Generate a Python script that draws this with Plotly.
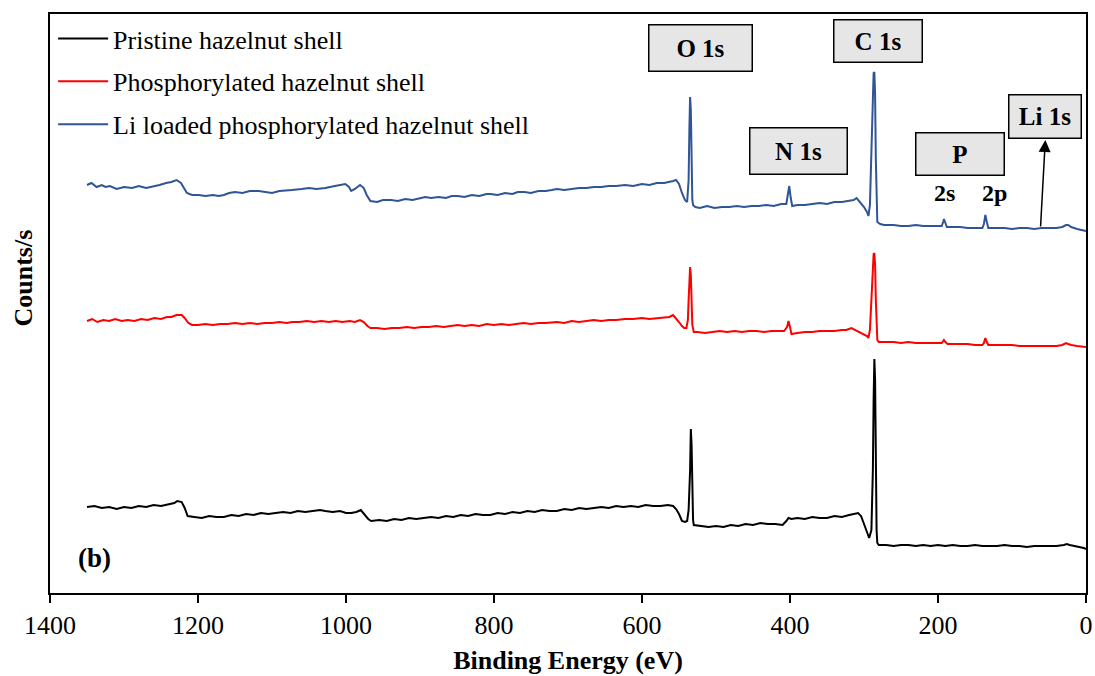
import plotly.graph_objects as go

# (binding energy eV, intensity a.u.)
pristine = [(1350,86),(1340,87),(1330,85),(1320,86),(1310,84),(1300,86),(1290,85),(1280,87),(1270,86),(1260,88),
(1250,87),(1240,89),(1232,90),(1228,92),(1222,91),(1218,85),(1214,77),(1205,76),(1195,75),(1185,77),
(1175,76),(1165,76),(1155,78),(1145,77),(1135,79),(1125,78),(1115,80),(1105,79),(1095,80),(1085,81),
(1075,80),(1065,82),(1055,81),(1045,82),(1035,83),(1028,82),(1018,81),(1008,82),(1000,80),(993,80),
(986,81),(980,83),(975,79),(970,74),(966,72),(955,73),(945,72),(935,74),(925,73),(915,75),
(905,74),(895,75),(885,76),(875,75),(865,77),(855,76),(845,78),(835,77),(825,79),(815,78),
(805,78),(795,80),(785,79),(775,81),(765,80),(755,82),(745,81),(735,83),(725,82),(715,82),
(705,84),(695,83),(685,85),(675,84),(665,85),(655,86),(645,85),(635,87),(625,86),(615,87),
(605,86),(595,88),(585,87),(575,87),(565,88),(558,87),(554,84),(550,79),(546,72),(542,71),
(539,72),(537,83),(535,123),(534,164),(533,148),(532,93),(531,73),(530,68),(520,67),(510,66),
(500,67),(490,66),(480,68),(470,67),(460,69),(450,68),(440,70),(430,69),(420,69),(410,68),
(405,72),(402,75),(398,74),(390,75),(380,74),(370,76),(360,75),(350,75),(340,77),(330,76),
(320,78),(312,79),(308,80),(304,77),(300,69),(296,60),(293,55),(290,63),(288,123),(287,193),
(286,234),(285,213),(284,123),(283,63),(282,50),(280,48),(270,48),(260,47),(250,48),(240,48),
(230,47),(220,48),(210,47),(200,48),(190,47),(180,48),(170,47),(160,47),(150,48),(140,47),
(130,47),(120,47),(110,48),(100,47),(90,47),(80,46),(70,47),(60,47),(50,47),(40,47),
(30,48),(26,49),(22,48),(15,47),(8,46),(3,45),(0,44)]

phosphorylated = [(1350,272),(1343,274),(1336,271),(1328,273),(1320,272),(1312,274),(1303,272),(1295,273),(1286,272),(1277,274),
(1268,273),(1259,275),(1250,274),(1242,276),(1236,276),(1229,278),(1222,278),(1218,275),(1213,270),(1208,268),
(1200,268),(1190,269),(1180,268),(1170,269),(1160,269),(1150,270),(1140,269),(1130,270),(1120,269),(1110,270),
(1100,270),(1090,271),(1080,270),(1073,271),(1063,271),(1053,272),(1043,271),(1033,272),(1023,271),(1014,272),
(1005,271),(995,272),(988,271),(981,273),(976,271),(971,267),(967,265),(958,265),(948,264),(938,265),
(928,265),(918,266),(908,265),(898,266),(888,266),(878,267),(868,266),(858,267),(849,268),(840,267),
(830,268),(820,267),(810,269),(800,268),(790,269),(780,268),(770,269),(760,270),(750,269),(740,270),
(730,270),(720,271),(715,271),(705,270),(695,272),(685,271),(675,272),(665,273),(655,272),(645,273),
(635,273),(623,274),(612,274),(600,275),(590,274),(580,275),(570,276),(563,276),(558,278),(554,275),
(550,271),(546,267),(543,265),(540,265),(538,273),(537,293),(536,318),(535,326),(534,318),(533,288),
(532,268),(530,261),(525,261),(515,260),(505,261),(495,262),(485,261),(475,262),(465,261),(455,262),
(445,262),(435,261),(425,262),(415,262),(408,262),(404,266),(402,272),(400,266),(398,259),(390,260),
(380,261),(370,261),(360,262),(350,262),(340,262),(330,263),(324,263),(317,265),(312,263),(305,261),
(300,259),(296,257),(294,255),(292,263),(290,293),(288,328),(287,339),(286,340),(285,328),(284,293),
(283,263),(282,253),(280,251),(270,251),(260,251),(250,250),(240,251),(230,250),(220,250),(210,250),
(200,250),(195,250),(193,252),(192,253),(190,251),(187,249),(180,249),(170,249),(160,249),(150,248),
(140,248),(138,250),(136,255),(134,251),(132,248),(120,248),(110,248),(100,248),(90,247),(80,247),
(70,247),(60,247),(50,247),(40,247),(32,248),(27,250),(24,249),(20,248),(12,247),(5,246),(0,246)]

li_loaded = [(1350,408),(1344,410),(1337,406),(1330,408),(1325,406),(1319,407),(1310,404),(1300,406),(1289,405),(1280,407),
(1270,405),(1262,406),(1252,408),(1243,410),(1236,411),(1229,413),(1223,410),(1219,405),(1215,400),(1208,398),
(1199,398),(1190,397),(1180,398),(1172,397),(1165,398),(1158,400),(1150,401),(1140,400),(1130,402),(1118,402),
(1108,401),(1100,400),(1090,402),(1080,403),(1073,403),(1060,404),(1050,405),(1040,404),(1028,405),(1015,407),
(1008,408),(1001,409),(996,406),(993,402),(988,404),(981,408),(976,405),(972,398),(967,392),(958,391),
(950,393),(939,393),(930,392),(920,394),(910,393),(900,395),(893,396),(885,395),(875,396),(865,395),
(857,397),(849,397),(840,396),(830,398),(820,397),(810,399),(805,399),(795,398),(785,400),(775,399),
(768,401),(759,401),(750,400),(740,402),(730,402),(722,403),(715,404),(705,403),(695,404),(685,405),
(675,405),(665,406),(655,406),(645,407),(635,407),(623,408),(612,407),(600,409),(590,408),(580,410),
(570,410),(562,411),(558,412),(554,413),(550,409),(546,400),(542,393),(539,391),(537,413),(536,463),
(535,496),(534,483),(533,423),(532,393),(531,388),(528,386),(522,385),(512,387),(502,385),(492,386),
(482,386),(472,387),(462,386),(452,387),(442,387),(432,388),(422,387),(412,389),(405,389),(403,398),
(401,407),(399,395),(397,387),(390,388),(380,388),(370,389),(360,390),(350,389),(340,391),(330,391),
(320,392),(314,393),(310,395),(305,391),(300,386),(296,381),(294,377),(292,388),(290,443),(288,503),
(287,520),(286,521),(285,498),(284,433),(283,383),(282,371),(278,369),(273,368),(260,368),(250,367),
(240,367),(230,368),(220,367),(210,367),(200,367),(195,367),(193,371),(192,374),(190,370),(188,366),
(180,366),(170,366),(160,365),(150,365),(140,365),(138,369),(136,378),(134,371),(132,365),(120,365),
(110,365),(100,364),(90,365),(80,365),(70,364),(60,365),(50,365),(40,365),(32,366),(27,368),
(24,368),(20,366),(12,364),(5,363),(0,362)]

series_names = ["Pristine hazelnut shell", "Phosphorylated hazelnut shell",
                "Li loaded phosphorylated hazelnut shell"]
series_colors = ["#000000", "#FF0000", "#2F5597"]
series_data = [pristine, phosphorylated, li_loaded]

x_ticks = [1400, 1200, 1000, 800, 600, 400, 200, 0]

# peak labels: (text, energy, intensity, box width, box height)
peak_boxes = [("O 1s", 521, 545, 102, 45), ("C 1s", 281.5, 552.5, 87, 41),
              ("N 1s", 388, 442.5, 96, 45), ("P", 170, 439.5, 87, 41),
              ("Li 1s", 55, 477, 71, 42)]
sub_labels = [("2s", 191, 400), ("2p", 124, 400)]

FONT = "Liberation Serif"

fig = go.Figure()
for name, color, data in zip(series_names, series_colors, series_data):
    xs = [p[0] for p in data]
    ys = [p[1] for p in data]
    fig.add_trace(go.Scatter(x=xs, y=ys, mode="lines", name=name, legendgroup=name,
                             line=dict(color=color, width=2)))

annotations = []
for text, ex, ey, w, h in peak_boxes:
    annotations.append(dict(x=ex, y=ey, xref="x", yref="y", text="<b>%s</b>" % text,
                            showarrow=False, width=w, height=h, bgcolor="#E7E6E6",
                            bordercolor="#000000", borderwidth=1.5, borderpad=0,
                            font=dict(family=FONT, size=25, color="#000000")))
for text, ex, ey in sub_labels:
    annotations.append(dict(x=ex, y=ey, xref="x", yref="y", text="<b>%s</b>" % text,
                            showarrow=False, font=dict(family=FONT, size=24, color="#000000")))
# Li 1s arrow
annotations.append(dict(x=55, y=453, ax=61.5, ay=365, xref="x", yref="y", axref="x", ayref="y",
                        text="", showarrow=True, arrowhead=2, arrowsize=1.6, arrowwidth=1.5,
                        arrowcolor="#000000"))
annotations.append(dict(x=1340, y=35, xref="x", yref="y", text="<b>(b)</b>", showarrow=False,
                        font=dict(family=FONT, size=27, color="#000000")))
annotations.append(dict(x=-0.0265, y=0.544, xref="paper", yref="paper", text="<b>Counts/s</b>",
                        textangle=-90, showarrow=False, xanchor="center",
                        font=dict(family=FONT, size=26, color="#000000")))

fig.update_layout(
    width=1095, height=676,
    margin=dict(l=50, r=9, t=14, b=83, autoexpand=False),
    paper_bgcolor="white", plot_bgcolor="white",
    font=dict(family=FONT, size=26, color="#000000"),
    showlegend=True,
    legend=dict(x=0.003, y=0.998, xanchor="left", yanchor="top", bgcolor="rgba(0,0,0,0)",
                font=dict(family=FONT, size=26, color="#000000"), tracegroupgap=6,
                itemwidth=50),
    annotations=annotations,
    xaxis=dict(range=[1400, 0], tickvals=x_ticks, ticks="outside", ticklen=8, tickwidth=1.5,
               tickcolor="#000000", showline=True, linecolor="#000000", linewidth=2, mirror=True,
               showgrid=False, zeroline=False, ticklabeloverflow="allow", automargin=False,
               tickfont=dict(family=FONT, size=26, color="#000000"),
               title=dict(text="<b>Binding Energy (eV)</b>", standoff=12,
                          font=dict(family=FONT, size=26, color="#000000"))),
    yaxis=dict(range=[0, 579], showticklabels=False, ticks="", showline=True,
               linecolor="#000000", linewidth=1.5, mirror=True, showgrid=False, zeroline=False,
               automargin=False),
)

fig.write_html("out.html")
